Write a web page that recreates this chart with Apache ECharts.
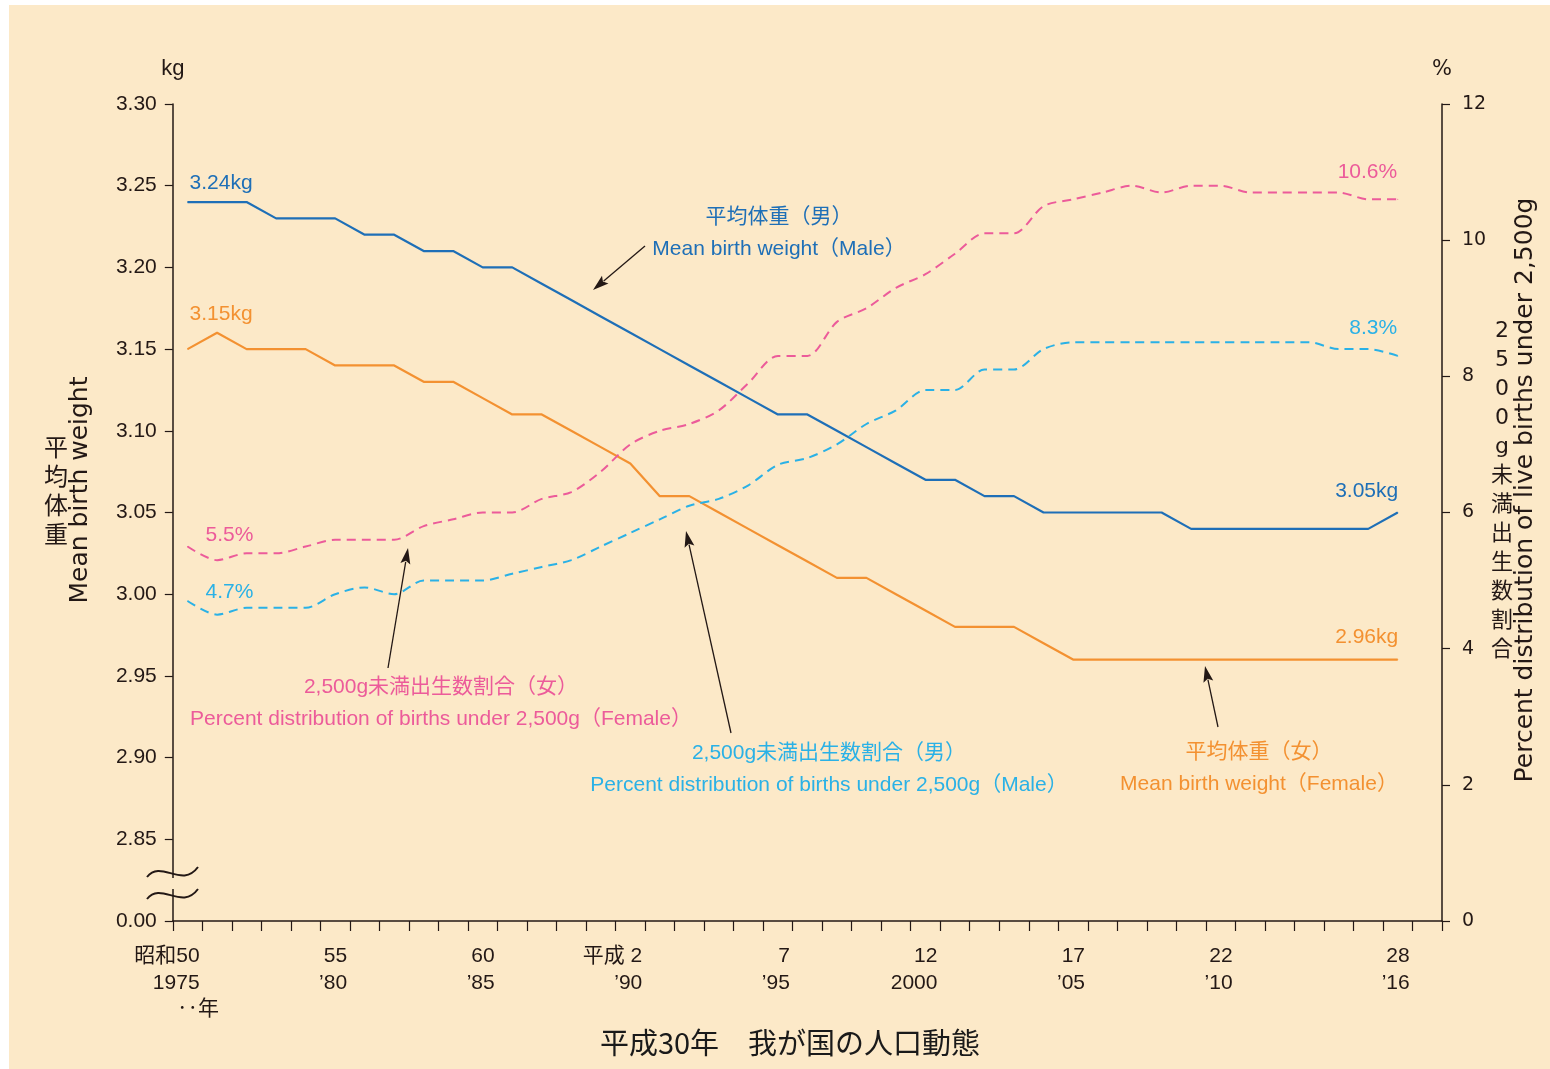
<!DOCTYPE html>
<html>
<head>
<meta charset="utf-8">
<script src="https://cdn.jsdelivr.net/npm/echarts@6/dist/echarts.min.js"></script>
<style>
html,body{margin:0;padding:0;background:#ffffff;}
#chart{width:1550px;height:1069px;}
</style>
</head>
<body>
<div id="chart"></div>
<script>
// ---- data ----
const years = ['1975','1976','1977','1978','1979','1980','1981','1982','1983','1984',
  '1985','1986','1987','1988','1989','1990','1991','1992','1993','1994',
  '1995','1996','1997','1998','1999','2000','2001','2002','2003','2004',
  '2005','2006','2007','2008','2009','2010','2011','2012','2013','2014',
  '2015','2016','2017'];
const labelYears = ['1975','1980','1985','1990','1995','2000','2005','2010','2016'];
const labelTexts = ['昭和50\n1975','55\n’80','60\n’85','平成 2\n’90','7\n’95','12\n2000','17\n’05','22\n’10','28\n’16'];
const maleWeight = [3.24,3.24,3.24,3.23,3.23,3.23,3.22,3.22,3.21,3.21,
  3.20,3.20,3.19,3.18,3.17,3.16,3.15,3.14,3.13,3.12,
  3.11,3.11,3.10,3.09,3.08,3.07,3.07,3.06,3.06,3.05,
  3.05,3.05,3.05,3.05,3.04,3.04,3.04,3.04,3.04,3.04,
  3.04,3.05];
const femaleWeight = [3.15,3.16,3.15,3.15,3.15,3.14,3.14,3.14,3.13,3.13,
  3.12,3.11,3.11,3.10,3.09,3.08,3.06,3.06,3.05,3.04,
  3.03,3.02,3.01,3.01,3.00,2.99,2.98,2.98,2.98,2.97,
  2.96,2.96,2.96,2.96,2.96,2.96,2.96,2.96,2.96,2.96,
  2.96,2.96];
const femaleLowPct = [5.5,5.3,5.4,5.4,5.5,5.6,5.6,5.6,5.8,5.9,
  6.0,6.0,6.2,6.3,6.6,7.0,7.2,7.3,7.5,7.9,
  8.3,8.3,8.8,9.0,9.3,9.5,9.8,10.1,10.1,10.5,
  10.6,10.7,10.8,10.7,10.8,10.8,10.7,10.7,10.7,10.7,
  10.6,10.6];
const maleLowPct = [4.7,4.5,4.6,4.6,4.6,4.8,4.9,4.8,5.0,5.0,
  5.0,5.1,5.2,5.3,5.5,5.7,5.9,6.1,6.2,6.4,
  6.7,6.8,7.0,7.3,7.5,7.8,7.8,8.1,8.1,8.4,
  8.5,8.5,8.5,8.5,8.5,8.5,8.5,8.5,8.5,8.4,
  8.4,8.3];
const leftTicks = { min: 2.80, max: 3.30, step: 0.05 };
const rightTicks = { min: 0, max: 12, step: 2 };

// ---- styles ----
const INK = '#231815';
const BLUE = '#1E6FB7';
const ORANGE = '#F39131';
const PINK = '#EC5B9A';
const CYAN = '#2AB1E6';
const BG = '#FCE9C8';
const FONT = "'Liberation Sans', 'Noto Sans CJK JP', sans-serif";
const WFONT = "'DejaVu Sans', 'Noto Sans CJK JP', sans-serif";

function endLabel(unit, dx, dy, align, color) {
  return {
    show: true,
    formatter: p => (unit === 'kg' ? p.value.toFixed(2) + 'kg' : p.value.toFixed(1) + '%'),
    position: [dx, dy], align: align, verticalAlign: 'middle',
    color: color, fontSize: 21, fontFamily: FONT
  };
}
function withLabels(arr, first, last) {
  return arr.map((v, i) => {
    if (i === 0) return { value: v, symbol: 'circle', symbolSize: 1, label: first };
    if (i === arr.length - 1) return { value: v, symbol: 'circle', symbolSize: 1, label: last };
    return v;
  });
}
function arrow(x1, y1, x2, y2) {
  const dx = x2 - x1, dy = y2 - y1, len = Math.hypot(dx, dy);
  const ux = dx / len, uy = dy / len, L = 16, W = 5;
  const bx = x2 - ux * L, by = y2 - uy * L;
  return {
    type: 'group', z: 100, children: [
      { type: 'line', shape: { x1: x1, y1: y1, x2: bx + ux * 2, y2: by + uy * 2 }, style: { stroke: INK, lineWidth: 1.3 } },
      { type: 'polygon', shape: { points: [[x2, y2], [bx - uy * W, by + ux * W], [bx + ux * 3, by + uy * 3], [bx + uy * W, by - ux * W]] }, style: { fill: INK } }
    ]
  };
}
function txt(x, y, text, color, size, family, extra, lh) {
  const style = { text: text, fill: color, font: size + 'px ' + family, textAlign: 'center', textVerticalAlign: 'middle' };
  if (lh) style.lineHeight = lh;
  return Object.assign({ type: 'text', x: x, y: y, z: 100, style: style }, extra || {});
}

const chart = echarts.init(document.getElementById('chart'), null, { renderer: 'canvas' });
const labelMap = {};
labelYears.forEach((y, i) => { labelMap[y] = labelTexts[i]; });

chart.setOption({
  animation: false,
  backgroundColor: '#ffffff',
  grid: { left: 172.8, right: 108, top: 104, bottom: 148, containLabel: false },
  xAxis: {
    type: 'category', data: years, boundaryGap: true,
    axisLine: { lineStyle: { color: INK, width: 1.5 } },
    axisTick: { show: true, interval: 0, length: 10, lineStyle: { color: INK, width: 1.2 } },
    axisLabel: {
      interval: 0, formatter: v => labelMap[v] || '',
      align: 'right', padding: [0, -12, 0, 0],
      margin: 22, lineHeight: 27, fontSize: 21, color: INK, fontFamily: FONT
    },
    splitLine: { show: false }
  },
  yAxis: [
    {
      type: 'value', min: leftTicks.min, max: leftTicks.max, interval: leftTicks.step,
      name: 'kg', nameLocation: 'end', nameGap: 24,
      nameTextStyle: { color: INK, fontSize: 22, fontFamily: FONT, align: 'center' },
      axisLine: { show: true, lineStyle: { color: INK, width: 1.5 } },
      axisTick: { show: true, length: 8, lineStyle: { color: INK, width: 1.2 } },
      axisLabel: { margin: 16, fontSize: 21, color: INK, fontFamily: FONT,
        formatter: v => (v < leftTicks.min + 0.01 ? '0.00' : v.toFixed(2)) },
      splitLine: { show: false }
    },
    {
      type: 'value', position: 'right', min: rightTicks.min, max: rightTicks.max, interval: rightTicks.step,
      name: '%', nameLocation: 'end', nameGap: 24,
      nameTextStyle: { color: INK, fontSize: 21, fontFamily: WFONT, align: 'center' },
      axisLine: { show: true, lineStyle: { color: INK, width: 1.5 } },
      axisTick: { show: true, length: 8, lineStyle: { color: INK, width: 1.2 } },
      axisLabel: { margin: 20, fontSize: 19, color: INK, fontFamily: WFONT },
      splitLine: { show: false }
    }
  ],
  series: [
    {
      name: '平均体重（男）', type: 'line', yAxisIndex: 0, silent: true,
      symbol: 'none', showAllSymbol: true,
      lineStyle: { color: BLUE, width: 2.2 }, itemStyle: { color: BLUE },
      data: withLabels(maleWeight, endLabel('kg', 2.5, -18, 'left', BLUE), endLabel('kg', 1, -21, 'right', BLUE))
    },
    {
      name: '平均体重（女）', type: 'line', yAxisIndex: 0, silent: true,
      symbol: 'none', showAllSymbol: true,
      lineStyle: { color: ORANGE, width: 2.2 }, itemStyle: { color: ORANGE },
      data: withLabels(femaleWeight, endLabel('kg', 2.5, -34, 'left', ORANGE), endLabel('kg', 1, -22, 'right', ORANGE))
    },
    {
      name: '2,500g未満出生数割合（女）', type: 'line', yAxisIndex: 1, silent: true,
      symbol: 'none', showAllSymbol: true, smooth: 0.3,
      lineStyle: { color: PINK, width: 2, type: [9, 6] }, itemStyle: { color: PINK },
      data: withLabels(femaleLowPct, endLabel('pct', 18.5, -11, 'left', PINK), endLabel('pct', 0, -27, 'right', PINK))
    },
    {
      name: '2,500g未満出生数割合（男）', type: 'line', yAxisIndex: 1, silent: true,
      symbol: 'none', showAllSymbol: true, smooth: 0.3,
      lineStyle: { color: CYAN, width: 2, type: [9, 6] }, itemStyle: { color: CYAN },
      data: withLabels(maleLowPct, endLabel('pct', 18.5, -8, 'left', CYAN), endLabel('pct', 0, -27, 'right', CYAN))
    }
  ],
  graphic: [
    { type: 'rect', z: -100, shape: { x: 9, y: 5, width: 1541, height: 1064 }, style: { fill: BG } },
    // axis break
    { type: 'rect', z: 99, shape: { x: 165, y: 878, width: 14, height: 11 }, style: { fill: BG } },
    { type: 'bezierCurve', z: 100, shape: { x1: 147, y1: 877, cpx1: 161, cpy1: 859, cpx2: 182, cpy2: 889, x2: 198, y2: 867 }, style: { stroke: INK, lineWidth: 2, fill: null } },
    { type: 'bezierCurve', z: 100, shape: { x1: 147, y1: 899, cpx1: 161, cpy1: 881, cpx2: 182, cpy2: 911, x2: 198, y2: 889 }, style: { stroke: INK, lineWidth: 2, fill: null } },
    txt(198, 1009, '‥年', INK, 21, FONT),
    // axis names
    txt(56, 490, '平\n均\n体\n重', INK, 24, "'Noto Sans CJK JP', sans-serif", {}, 29),
    txt(80, 490, 'Mean birth weight', INK, 25, WFONT, { rotation: Math.PI / 2 }),
    txt(1502, 491, '2\n5\n0\n0\ng\n未\n満\n出\n生\n数\n割\n合', INK, 22, WFONT, {}, 29),
    txt(1525, 490, 'Percent distribution of live births under 2,500g', INK, 25, WFONT, { rotation: Math.PI / 2 }),
    // annotations
    txt(779, 217, '平均体重（男）', BLUE, 21, FONT),
    txt(779, 249, 'Mean birth weight（Male）', BLUE, 21, FONT),
    arrow(645, 246, 593, 290),
    txt(441, 687, '2,500g未満出生数割合（女）', PINK, 21, FONT),
    txt(441, 719, 'Percent distribution of births under 2,500g（Female）', PINK, 21, FONT),
    arrow(388, 668, 408, 548),
    txt(829, 753, '2,500g未満出生数割合（男）', CYAN, 21, FONT),
    txt(829, 785, 'Percent distribution of births under 2,500g（Male）', CYAN, 21, FONT),
    arrow(731, 733, 686, 531),
    txt(1259, 752, '平均体重（女）', ORANGE, 21, FONT),
    txt(1259, 784, 'Mean birth weight（Female）', ORANGE, 21, FONT),
    arrow(1218, 727, 1205, 666),
    // caption
    txt(790, 1043, '平成30年　我が国の人口動態', '#1a1a1a', 29, "'Noto Sans CJK JP', sans-serif")
  ]
});
</script>
</body>
</html>
